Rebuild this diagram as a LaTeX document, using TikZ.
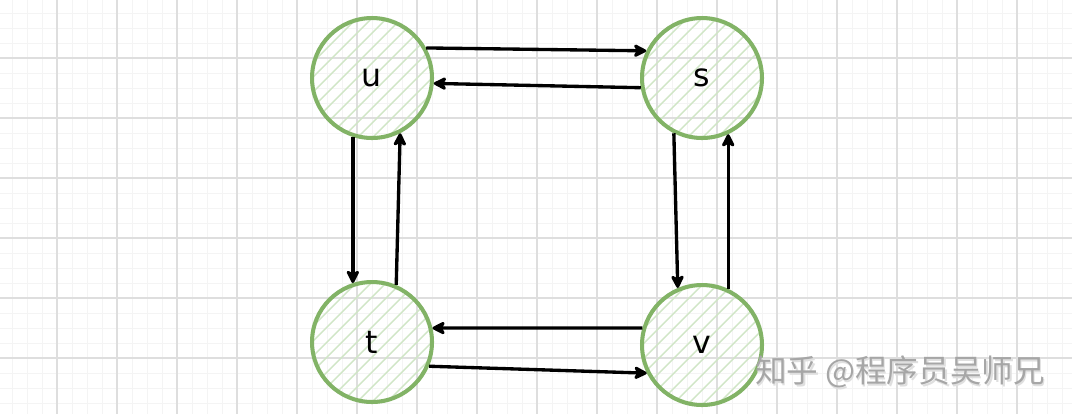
\documentclass[tikz,border=0pt]{standalone}
\usepackage{fontspec}
\setmainfont{DejaVu Sans}
\newfontfamily\cjk{Noto Sans CJK SC}
\usetikzlibrary{arrows.meta}
\definecolor{vgreen}{RGB}{130,179,102}
\definecolor{hatchgreen}{RGB}{208,230,198}
\definecolor{gridmajor}{RGB}{222,222,222}
\definecolor{gridminor}{RGB}{244,244,244}
\begin{document}
\begin{tikzpicture}[x=0.02cm,y=-0.02cm,
  vert/.style={circle, draw=vgreen, line width=2.3pt, minimum size=2.4cm, inner sep=0pt,
    font=\fontsize{18}{20}\selectfont},
  edge/.style={line width=1.9pt, -{Stealth[length=9pt, width=9pt, inset=2.5pt, round]}},
  hatch/.style={draw=hatchgreen, line width=0.8pt},
  minorgrid/.style={draw=gridminor, line width=0.5pt},
  majorgrid/.style={draw=gridmajor, line width=0.6pt}]
\useasboundingbox (0,0) rectangle (1072,414);
\fill[white] (0,0) rectangle (1072,414);
% grid
\foreach \x in {12,27,...,1072} \draw[minorgrid] (\x,0) -- (\x,414);
\foreach \y in {13,28,...,414} \draw[minorgrid] (0,\y) -- (1072,\y);
\foreach \x in {57,117,...,1072} \draw[majorgrid] (\x,0) -- (\x,414);
\foreach \y in {58,118,...,414} \draw[majorgrid] (0,\y) -- (1072,\y);
% hatching
\foreach \cx/\cy in {372/78, 702/78, 372/342, 702/345}{
  \begin{scope}[shift={(\cx,\cy)}]
    \clip (0,0) circle[radius=1.18cm];
    \foreach \k in {-150,-135,...,150}
      \draw[hatch] ({\k-80},80) -- ({\k+80},-80);
  \end{scope}
}
% nodes
\node[vert] (u) at (372,78) {u};
\node[vert] (s) at (702,78) {s};
\node[vert] (t) at (372,342) {t};
\node[vert] (v) at (702,345) {v};
% edges
\draw[edge] (u.29) -- (s.154);
\draw[edge] (s.189) -- (u.-5);
\draw[edge] (u.-108) -- (t.108);
\draw[edge] (t.67) -- (u.-63);
\draw[edge] (s.-117) -- (v.113);
\draw[edge] (v.65) -- (s.-65);
\draw[edge] (v.164) -- (t.13);
\draw[edge] (t.-23) -- (v.-153);
% watermark
\node[text=gray!25, font=\cjk\fontsize{18}{20}\selectfont] (wmshadow) at (901.5,373.5) {知乎 @程序员吴师兄};
\node[text=gray!70, font=\cjk\fontsize{18}{20}\selectfont] (wm) at (900,372) {知乎 @程序员吴师兄};
\end{tikzpicture}
\end{document}
